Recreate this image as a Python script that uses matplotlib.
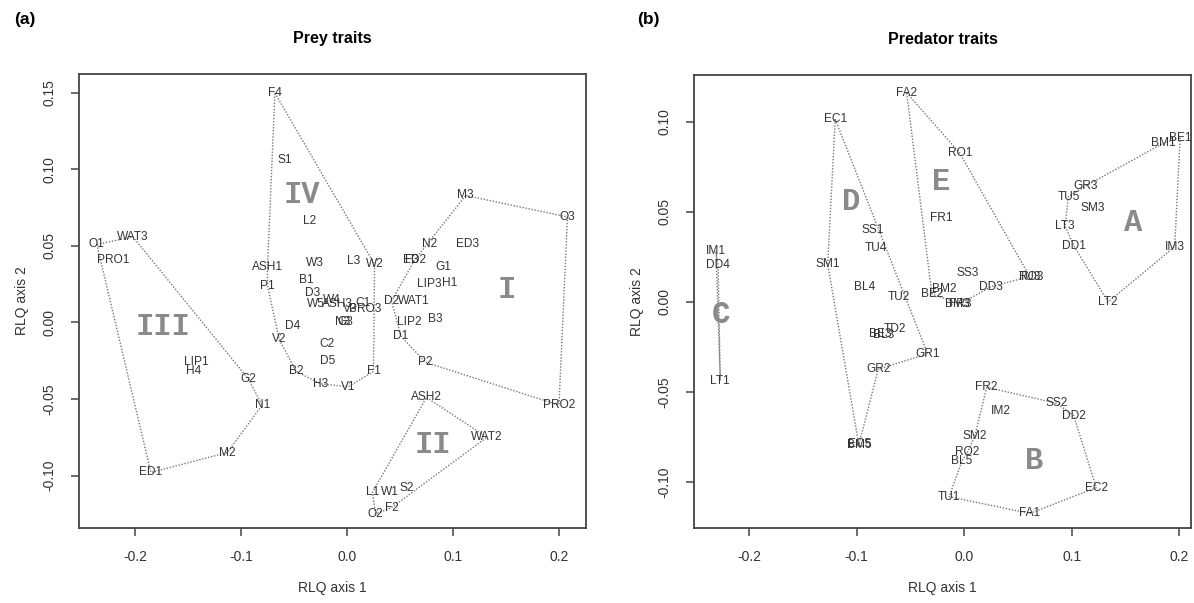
import matplotlib
matplotlib.use('Agg')
import matplotlib.pyplot as plt

plt.rcParams['font.family'] = ['Liberation Sans', 'DejaVu Sans']

# ---- prey traits (panel a) ----
prey_labels = ['F4', 'S1', 'L2', 'ASH1', 'P1', 'W3', 'L3', 'W2', 'B1', 'D3', 'W4', 'W5', 'ASH3',
               'C1', 'PRO3', 'V3', 'N3', 'G3', 'D4', 'V2', 'C2', 'D5', 'B2', 'H3', 'V1', 'F1',
               'M3', 'O3', 'N2', 'ED3', 'ED2', 'F3', 'D2', 'WAT1', 'G1', 'LIP3', 'H1', 'LIP2',
               'B3', 'D1', 'P2', 'PRO2', 'ASH2', 'WAT2', 'L1', 'W1', 'S2', 'O2', 'F2',
               'O1', 'WAT3', 'PRO1', 'LIP1', 'H4', 'G2', 'N1', 'M2', 'ED1']
prey_x = [-0.068, -0.059, -0.035, -0.075, -0.075, -0.030, 0.006, 0.026, -0.038, -0.032, -0.014,
          -0.029, -0.009, 0.015, 0.017, 0.003, -0.004, -0.002, -0.051, -0.064, -0.019, -0.018,
          -0.048, -0.025, 0.001, 0.025, 0.112, 0.208, 0.078, 0.114, 0.064, 0.061, 0.042, 0.063,
          0.091, 0.078, 0.097, 0.059, 0.083, 0.051, 0.074, 0.200, 0.075, 0.132, 0.024, 0.040,
          0.056, 0.027, 0.042, -0.236, -0.202, -0.221, -0.142, -0.145, -0.093, -0.080, -0.113,
          -0.185]
prey_y = [0.150, 0.106, 0.066, 0.036, 0.024, 0.039, 0.040, 0.038, 0.028, 0.019, 0.015, 0.012,
          0.012, 0.013, 0.009, 0.009, 0.000, 0.000, -0.002, -0.011, -0.014, -0.025, -0.032,
          -0.040, -0.042, -0.032, 0.083, 0.069, 0.051, 0.051, 0.041, 0.041, 0.014, 0.014, 0.036,
          0.025, 0.026, 0.000, 0.002, -0.009, -0.026, -0.054, -0.049, -0.075, -0.111, -0.111,
          -0.108, -0.125, -0.121, 0.051, 0.056, 0.041, -0.026, -0.032, -0.037, -0.054, -0.085,
          -0.098]
prey_hulls = [
    ['M3', 'O3', 'PRO2', 'P2', 'D1', 'D2', 'ED2'],
    ['ASH2', 'WAT2', 'F2', 'O2', 'L1'],
    ['O1', 'WAT3', 'G2', 'N1', 'M2', 'ED1'],
    ['F4', 'W2', 'F1', 'V1', 'H3', 'B2', 'V2', 'P1', 'ASH1'],
]
prey_groups = ['I', 'II', 'III', 'IV']
prey_group_x = [0.151, 0.081, -0.174, -0.043]
prey_group_y = [0.021, -0.080, -0.003, 0.083]

# ---- predator traits (panel b) ----
pred_labels = ['FA2', 'EC1', 'RO1', 'FR1', 'SS1', 'TU4', 'SM1', 'IM1', 'DD4', 'LT1', 'BL4',
               'TU2', 'BM2', 'BE2', 'SS3', 'DD3', 'TU3', 'RO3', 'FR3', 'BM3', 'TD2', 'BL3',
               'BE3', 'GR1', 'GR2', 'BM5', 'EC5', 'LT2', 'GR3', 'TU5', 'SM3', 'LT3', 'DD1',
               'BM1', 'BE1', 'IM3', 'FR2', 'IM2', 'SS2', 'DD2', 'SM2', 'RO2', 'BL5', 'EC2',
               'TU1', 'FA1']
pred_x = [-0.0535, -0.120, -0.004, -0.021, -0.085, -0.082, -0.127, -0.231, -0.229, -0.227,
          -0.093, -0.061, -0.018, -0.030, 0.003, 0.025, 0.061, 0.062, -0.004, -0.006, -0.064,
          -0.075, -0.078, -0.034, -0.080, -0.098, -0.097, 0.134, 0.113, 0.097, 0.120, 0.094,
          0.102, 0.185, 0.201, 0.196, 0.021, 0.034, 0.086, 0.102, 0.010, 0.003, -0.002,
          0.123, -0.014, 0.061]
pred_y = [0.1163, 0.1015, 0.0826, 0.0465, 0.0398, 0.030, 0.0209, 0.0283, 0.0204, -0.0437,
          0.0085, 0.0028, 0.0072, 0.0044, 0.016, 0.0085, 0.0141, 0.0139, -0.0011, -0.0009,
          -0.0149, -0.0186, -0.018, -0.0288, -0.0374, -0.0794, -0.0792, 0.000, 0.0644, 0.0585,
          0.052, 0.0422, 0.0313, 0.0881, 0.0913, 0.0307, -0.0474, -0.0604, -0.0563, -0.0632,
          -0.0743, -0.0836, -0.0883, -0.1032, -0.1082, -0.1175]
pred_hulls = [
    ['BE1', 'IM3', 'LT2', 'DD1', 'LT3', 'TU5', 'GR3', 'BM1'],
    ['FR2', 'SS2', 'DD2', 'EC2', 'FA1', 'TU1', 'BL5', 'RO2', 'SM2'],
    ['IM1', 'DD4', 'LT1'],
    ['EC1', 'GR1', 'GR2', 'BM5', 'SM1'],
    ['FA2', 'RO1', 'TU3', 'DD3', 'FR3', 'BE2'],
]
pred_groups = ['A', 'B', 'C', 'D', 'E']
pred_group_x = [0.1575, 0.065, -0.226, -0.105, -0.021]
pred_group_y = [0.0441, -0.0883, -0.0074, 0.0556, 0.0668]


def draw_panel(ax, labels, xs, ys, hulls, groups, gx, gy, title):
    pos = {lab: (x, y) for lab, x, y in zip(labels, xs, ys)}
    for hull in hulls:
        px = [pos[h][0] for h in hull] + [pos[hull[0]][0]]
        py = [pos[h][1] for h in hull] + [pos[hull[0]][1]]
        ax.plot(px, py, linestyle=(0, (1, 1.2)), color='#777777', linewidth=1.0, zorder=1)
    for lab, x, y in zip(labels, xs, ys):
        ax.text(x, y, lab, ha='center', va='center', fontsize=8.6, color='#333333', zorder=3)
    for g, x, y in zip(groups, gx, gy):
        ax.text(x, y, g, ha='center', va='center', fontsize=22, color='#8a8a8a',
                family='Liberation Mono', fontweight='bold', zorder=2)
    ax.set_title(title, fontsize=11.5, fontweight='bold', pad=22)
    ax.set_xlabel('RLQ axis 1', fontsize=10, color='#333333', labelpad=12)
    ax.set_ylabel('RLQ axis 2', fontsize=10, color='#333333', labelpad=10)
    ax.tick_params(direction='out', length=6, width=1.1, colors='#444444', labelsize=10,
                   pad=10, labelcolor='#333333')
    for lab in ax.get_yticklabels():
        lab.set_rotation(90)
        lab.set_va('center')
    for sp in ax.spines.values():
        sp.set_color('#444444')
        sp.set_linewidth(1.3)


fig = plt.figure(figsize=(11.94, 6.03), dpi=100)
ax1 = fig.add_axes([0.0662, 0.1244, 0.4246, 0.7529])
ax2 = fig.add_axes([0.5812, 0.1244, 0.4166, 0.7512])

ax1.set_xlim(-0.2528, 0.2255)
ax1.set_ylim(-0.1343, 0.1624)
ax1.set_xticks([-0.2, -0.1, 0.0, 0.1, 0.2])
ax1.set_yticks([-0.10, -0.05, 0.00, 0.05, 0.10, 0.15])
ax1.set_xticklabels(['-0.2', '-0.1', '0.0', '0.1', '0.2'])
ax1.set_yticklabels(['-0.10', '-0.05', '0.00', '0.05', '0.10', '0.15'])
draw_panel(ax1, prey_labels, prey_x, prey_y, prey_hulls, prey_groups,
           prey_group_x, prey_group_y, 'Prey traits')

ax2.set_xlim(-0.2515, 0.2115)
ax2.set_ylim(-0.1256, 0.1261)
ax2.set_xticks([-0.2, -0.1, 0.0, 0.1, 0.2])
ax2.set_yticks([-0.10, -0.05, 0.00, 0.05, 0.10])
ax2.set_xticklabels(['-0.2', '-0.1', '0.0', '0.1', '0.2'])
ax2.set_yticklabels(['-0.10', '-0.05', '0.00', '0.05', '0.10'])
draw_panel(ax2, pred_labels, pred_x, pred_y, pred_hulls, pred_groups,
           pred_group_x, pred_group_y, 'Predator traits')

fig.text(0.012, 0.967, '(a)', fontsize=12.5, fontweight='bold', va='center')
fig.text(0.534, 0.967, '(b)', fontsize=12.5, fontweight='bold', va='center')

fig.savefig('out.png', dpi=100)
